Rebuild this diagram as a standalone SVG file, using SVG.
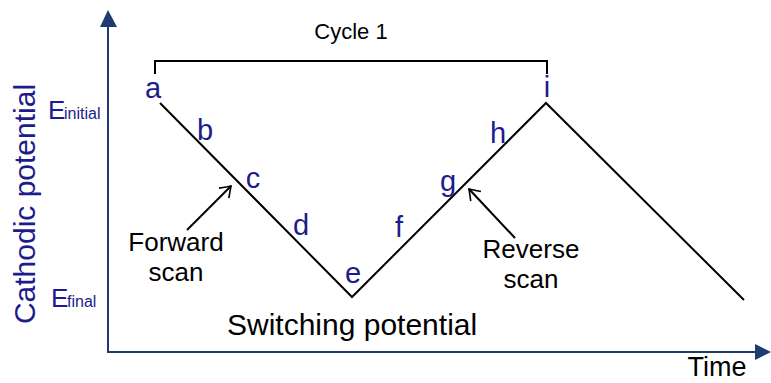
<svg xmlns="http://www.w3.org/2000/svg" width="771" height="383" viewBox="0 0 771 383">
<style>
text{font-family:"Liberation Sans",Arial,sans-serif}
.lbl{font-size:29px;fill:#1c1c8c;text-anchor:middle}
.blk{font-size:26px;fill:#000;text-anchor:middle}
.ax{stroke:#1f3a70;stroke-width:2;fill:none}
.ln{stroke:#000;stroke-width:2;fill:none}
</style>
<defs>
<marker id="open" viewBox="-12 -8 14 16" refX="0" refY="0" markerWidth="14" markerHeight="16" markerUnits="userSpaceOnUse" orient="auto">
<path d="M-10,-7 Q-3,-2 0,0 Q-3,2 -10,7" fill="none" stroke="#000" stroke-width="1.6"/>
</marker>
</defs>
<g id="axes">
<path class="ax" d="M108,26 V352 H755"/>
<polygon points="108,10 100,27 117,27" fill="#1f3a70"/>
<polygon points="771,352 755,344 755,360" fill="#1f3a70"/>
<text x="35" y="204" transform="rotate(-90 35 204)" font-size="30" fill="#1c1c8c" text-anchor="middle">Cathodic potential</text>
<text x="717" y="376" font-size="27" fill="#000" text-anchor="middle">Time</text>
</g>
<g id="e-initial">
<text x="48" y="119" font-size="26" fill="#1c1c8c">E<tspan x="64" font-size="16">initial</tspan></text>
</g>
<g id="e-final">
<text x="51" y="307" font-size="26" fill="#1c1c8c">E<tspan x="67" font-size="16">final</tspan></text>
</g>
<g id="cycle">
<path class="ln" d="M155,74 V61 H547 V74"/>
<text x="351" y="39" font-size="22" fill="#000" text-anchor="middle">Cycle 1</text>
</g>
<g id="connectors">
<polyline class="ln" points="160,103 352,297 546,103 744,300"/>
<line class="ln" x1="187" y1="230" x2="231" y2="186" stroke-width="1.8" marker-end="url(#open)"/>
<line class="ln" x1="515" y1="238" x2="469" y2="189" stroke-width="1.8" marker-end="url(#open)"/>
</g>
<g id="labels">
<text class="lbl" x="153" y="98">a</text>
<text class="lbl" x="205" y="140">b</text>
<text class="lbl" x="253" y="188">c</text>
<text class="lbl" x="301" y="235">d</text>
<text class="lbl" x="353" y="283">e</text>
<text class="lbl" x="399" y="237">f</text>
<text class="lbl" x="448" y="191">g</text>
<text class="lbl" x="498" y="143">h</text>
<text class="lbl" x="547" y="97">i</text>
</g>
<g id="forward">
<text class="blk" x="176" y="251">Forward<tspan x="176" y="280.5">scan</tspan></text>
</g>
<g id="reverse">
<text class="blk" x="531" y="258">Reverse<tspan x="531" y="287.5">scan</tspan></text>
</g>
<g id="switching">
<text x="227" y="335" font-size="30" fill="#000">Switching potential</text>
</g>
</svg>
